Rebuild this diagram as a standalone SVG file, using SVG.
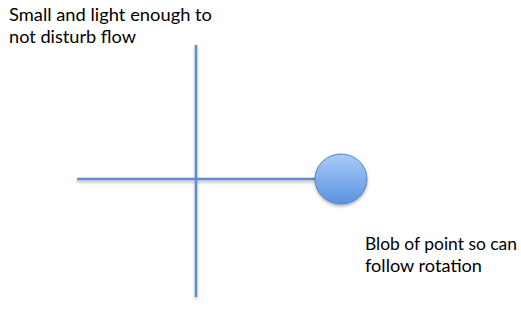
<svg xmlns="http://www.w3.org/2000/svg" width="521" height="322" viewBox="0 0 521 322">
<style>
.t{font-family:Lato,"Open Sans","Liberation Sans",sans-serif;font-size:17px;fill:#000}
.ln{stroke:#5b8ed1;stroke-width:2.5;fill:none}
</style>
<defs>
<linearGradient id="g" x1="0" y1="0" x2="0" y2="1">
<stop offset="0" stop-color="#a9cbf7"/>
<stop offset="1" stop-color="#5a93e0"/>
</linearGradient>
<filter id="sh" x="-20%" y="-20%" width="140%" height="150%">
<feDropShadow dx="0" dy="2" stdDeviation="1.5" flood-color="#000" flood-opacity="0.3"/>
</filter>
</defs>
<g id="connectors" filter="url(#sh)">
<line class="ln" x1="77" y1="179" x2="316" y2="179"/>
<line class="ln" x1="196" y1="45" x2="196" y2="297"/>
</g>
<g id="blob">
<ellipse cx="341" cy="179" rx="26" ry="25" fill="url(#g)" stroke="#5685c4" stroke-width="1" filter="url(#sh)"/>
</g>
<g id="label-top">
<text class="t" x="9" y="21" textLength="203" lengthAdjust="spacingAndGlyphs">Small and light enough to</text>
<text class="t" x="9" y="43" textLength="127" lengthAdjust="spacingAndGlyphs">not disturb flow</text>
</g>
<g id="label-blob">
<text class="t" x="365" y="250" textLength="152" lengthAdjust="spacingAndGlyphs">Blob of point so can</text>
<text class="t" x="365" y="272" textLength="117" lengthAdjust="spacingAndGlyphs">follow rotation</text>
</g>
</svg>
